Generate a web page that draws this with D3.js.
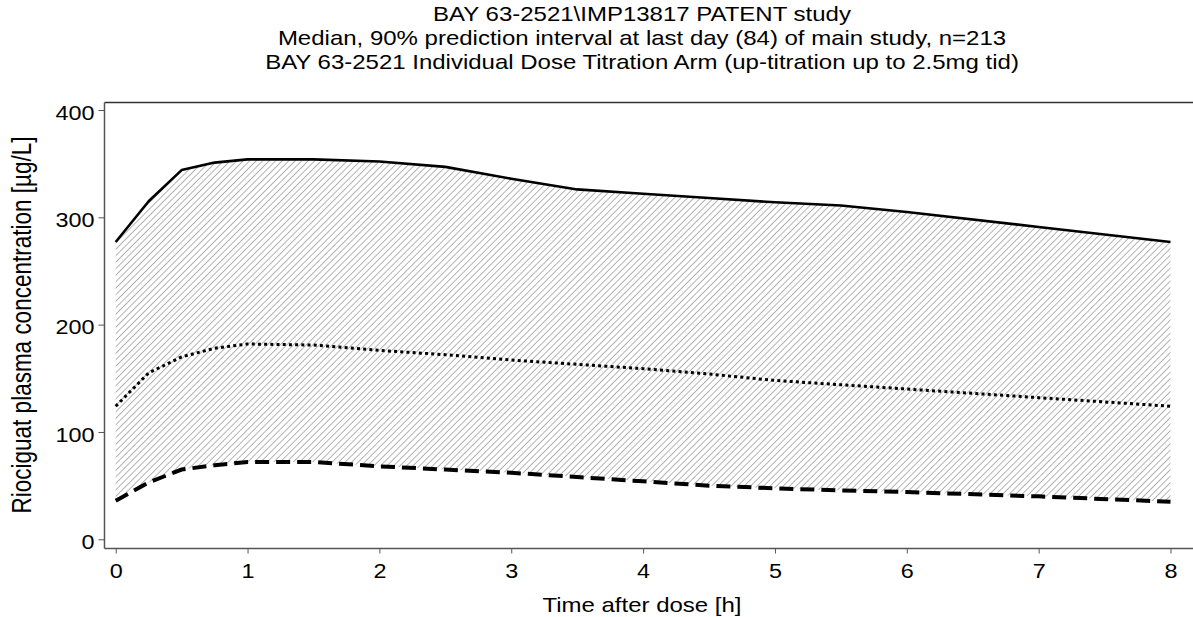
<!DOCTYPE html>
<html>
<head>
<meta charset="utf-8">
<script src="https://cdn.jsdelivr.net/npm/d3@7"></script>
<style>
  html, body { margin: 0; padding: 0; background: #fff; }
  svg { display: block; font-family: "Liberation Sans", Arial, sans-serif; }
</style>
</head>
<body>
<svg id="chart" width="1193" height="617"></svg>
<script>
// Time after dose [h]
const hours = [0, 0.25, 0.5, 0.75, 1, 1.5, 2, 2.5, 3, 3.5, 4, 4.5, 5, 5.5, 6, 7, 8];
// 95th percentile
const upper = [277, 315, 344, 351, 354, 354, 352, 347, 336, 326, 322, 318, 314, 311, 305, 291, 277];
// Median
const median = [124, 155, 170, 178, 182, 181, 176, 172, 167, 163, 159, 154, 148, 144, 140, 132, 124];
// 5th percentile
const lower = [36, 53, 65, 69, 72, 72, 68, 65, 62, 58, 54, 50, 47.5, 45.5, 44, 40, 35];

const xTicks = [0, 1, 2, 3, 4, 5, 6, 7, 8];
const yTicks = [0, 100, 200, 300, 400];

const titleLines = [
  "BAY 63-2521\\IMP13817 PATENT study",
  "Median, 90% prediction interval at last day (84) of main study, n=213",
  "BAY 63-2521 Individual Dose Titration Arm (up-titration up to 2.5mg tid)"
];

// glyphs are drawn slightly wider than tall
const SX = 1.2;

const svg = d3.select("#chart");

const box = { left: 104.5, top: 102.5, right: 1193, bottom: 548.5 };

const x = d3.scaleLinear().domain([0, 8]).range([115.7, 1170.5]);
const y = d3.scaleLinear().domain([0, 400]).range([539.3, 110]);

// hatch pattern for the prediction band
const defs = svg.append("defs");
const pat = defs.append("pattern")
  .attr("id", "hatch")
  .attr("patternUnits", "userSpaceOnUse")
  .attr("width", 4.6).attr("height", 4.6)
  .attr("patternTransform", "rotate(45)");
pat.append("line")
  .attr("x1", 0).attr("y1", 0).attr("x2", 0).attr("y2", 4.6)
  .attr("stroke", "#8c8c8c").attr("stroke-width", 1.3);

const rows = hours.map((h, i) => ({ h, up: upper[i], med: median[i], lo: lower[i] }));

// band
svg.append("path")
  .datum(rows)
  .attr("fill", "url(#hatch)")
  .attr("d", d3.area().x(d => x(d.h)).y0(d => y(d.lo)).y1(d => y(d.up)));

// upper bound
svg.append("path")
  .datum(rows)
  .attr("fill", "none").attr("stroke", "#000").attr("stroke-width", 2.6)
  .attr("stroke-linejoin", "round")
  .attr("d", d3.line().x(d => x(d.h)).y(d => y(d.up)));

// median
svg.append("path")
  .datum(rows)
  .attr("fill", "none").attr("stroke", "#000").attr("stroke-width", 3)
  .attr("stroke-dasharray", "3,3.2")
  .attr("d", d3.line().x(d => x(d.h)).y(d => y(d.med)));

// lower bound
svg.append("path")
  .datum(rows)
  .attr("fill", "none").attr("stroke", "#000").attr("stroke-width", 4)
  .attr("stroke-dasharray", "14,7")
  .attr("d", d3.line().x(d => x(d.h)).y(d => y(d.lo)));

// frame line along the top
svg.append("line")
  .attr("x1", box.left).attr("x2", box.right).attr("y1", box.top).attr("y2", box.top)
  .attr("stroke", "#333").attr("stroke-width", 1.5);

// axes
const xAxis = svg.append("g")
  .attr("transform", `translate(0,${box.bottom})`)
  .call(d3.axisBottom(x).tickValues(xTicks).tickFormat(d3.format("d")).tickSize(5));
xAxis.select(".domain").attr("d", `M${box.left},0H${box.right}`).attr("stroke", "#555").attr("stroke-width", 1.5);
xAxis.selectAll(".tick line").attr("stroke", "#555");
xAxis.selectAll(".tick text")
  .attr("y", null).attr("dy", null)
  .attr("transform", `translate(0,29) scale(${SX},1)`)
  .attr("font-size", 19.5).attr("fill", "#000")
  .attr("font-family", "Liberation Sans, Arial, sans-serif");

const yAxis = svg.append("g")
  .attr("transform", `translate(${box.left},0)`)
  .call(d3.axisLeft(y).tickValues(yTicks).tickFormat(d3.format("d")).tickSize(6));
yAxis.select(".domain").attr("d", `M0,${box.top}V${box.bottom}`).attr("stroke", "#555").attr("stroke-width", 1.5);
yAxis.selectAll(".tick line").attr("stroke", "#555");
yAxis.selectAll(".tick text")
  .attr("x", null).attr("dy", null)
  .attr("transform", `translate(-10,9.3) scale(${SX},1)`)
  .attr("font-size", 19.5).attr("fill", "#000")
  .attr("font-family", "Liberation Sans, Arial, sans-serif");

// titles
svg.append("g").selectAll("text")
  .data(titleLines)
  .join("text")
  .attr("transform", (d, i) => `translate(642,${21 + i * 24}) scale(${SX},1)`)
  .attr("text-anchor", "middle")
  .attr("font-size", 20)
  .text(d => d);

// axis labels
svg.append("text")
  .attr("transform", `translate(642,612) scale(${SX},1)`)
  .attr("text-anchor", "middle").attr("font-size", 20)
  .text("Time after dose [h]");

svg.append("text")
  .attr("transform", `translate(31,325) scale(${SX},1) rotate(-90)`)
  .attr("text-anchor", "middle").attr("font-size", 22.5)
  .text("Riociguat plasma concentration [µg/L]");
</script>
</body>
</html>
